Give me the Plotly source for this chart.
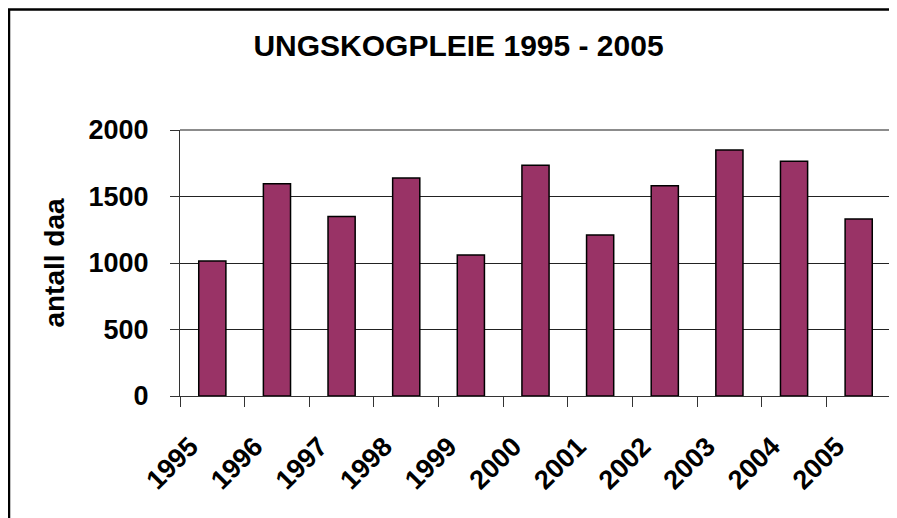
import plotly.graph_objects as go

years = ["1995", "1996", "1997", "1998", "1999", "2000", "2001", "2002", "2003", "2004", "2005"]
antall_daa = [1015, 1595, 1350, 1640, 1060, 1735, 1210, 1580, 1850, 1765, 1330]
y_ticks = [0, 500, 1000, 1500, 2000]

# page has an 8px body margin, so the figure is drawn 8px smaller and offset
OFF = 8
W, H = 897 - OFF, 518 - OFF
L, R, T, B = 180 - OFF, 6, 130 - OFF, 122
pw, ph = W - L - R, H - T - B

def px_x(p):
    return (p - OFF - L) / pw

def px_y(p):
    return (H - B - (p - OFF)) / ph

fig = go.Figure()
fig.add_trace(go.Bar(
    x=years, y=antall_daa,
    marker=dict(color="#993366", line=dict(color="black", width=1.5)),
))

font = "Liberation Sans, Arial, sans-serif"
fig.update_layout(
    width=W, height=H,
    margin=dict(l=L, r=R, t=T, b=B, autoexpand=False),
    paper_bgcolor="white", plot_bgcolor="white",
    bargap=0.58,
    showlegend=False,
    title=dict(text="<b>UNGSKOGPLEIE 1995 - 2005</b>", x=((255 + 662) / 2 - OFF) / W, xanchor="center",
               y=1 - (45 - OFF) / H, yanchor="middle", font=dict(family=font, size=30, color="black")),
    font=dict(family=font, color="black"),
)
fig.update_xaxes(
    type="category", tickangle=-45, tickson="boundaries", automargin=False,
    ticks="outside", ticklen=10, tickcolor="#333", tickwidth=1,
    showline=True, linecolor="#333", linewidth=1,
    showgrid=False,
    tickfont=dict(family=font, size=27, color="black", weight="bold"),
    ticklabelstandoff=23, ticklabelshift=-22,
)
fig.update_yaxes(
    range=[0, 2000], tickvals=y_ticks, automargin=False,
    ticks="outside", ticklen=9, tickcolor="#333", tickwidth=1,
    showline=True, linecolor="#333", linewidth=1,
    showgrid=True, gridcolor="#222", gridwidth=1,
    tickfont=dict(family=font, size=27, color="black", weight="bold"),
    ticklabelstandoff=16,
    title=dict(text="antall daa", font=dict(family=font, size=28, color="black", weight="bold"), standoff=15),
    zeroline=False,
)
# gray plot-area frame (top and right)
fig.add_shape(type="line", xref="paper", yref="paper", x0=0, x1=1, y0=1, y1=1,
              line=dict(color="#8c8c8c", width=2), layer="above")
fig.add_shape(type="line", xref="paper", yref="paper", x0=1, x1=1, y0=0, y1=1,
              line=dict(color="#8c8c8c", width=2), layer="above")
# outer chart border (top and left visible)
fig.add_shape(type="rect", xref="paper", yref="paper",
              x0=px_x(9), x1=px_x(910), y0=px_y(9.5), y1=px_y(540),
              line=dict(color="black", width=2.5), layer="above")

fig.write_html("out.html")
